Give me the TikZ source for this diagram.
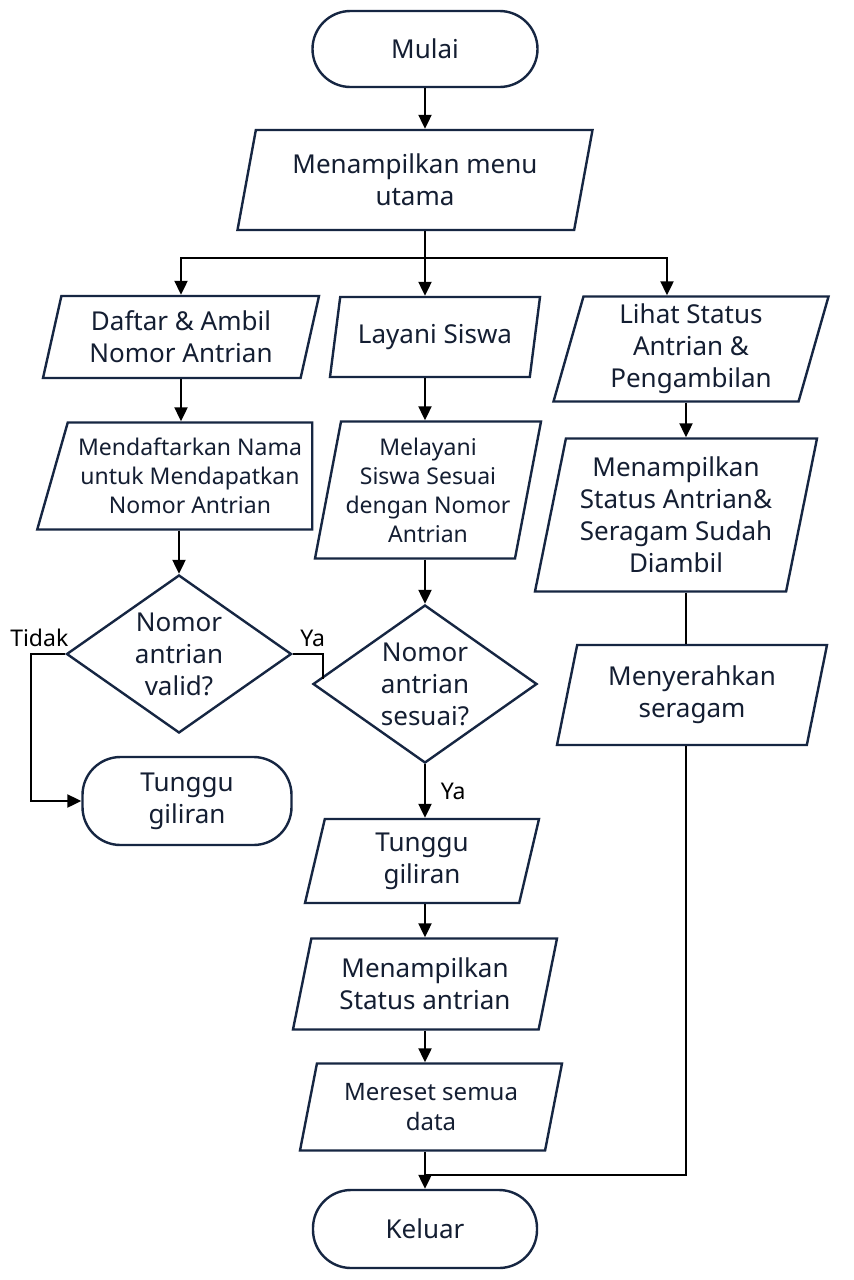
\documentclass[tikz,border=0pt]{standalone}
\usepackage{fontspec}
\setmainfont{Noto Sans}
\usetikzlibrary{shapes.geometric,arrows.meta}

\definecolor{navy}{RGB}{22,38,66}
\definecolor{ink}{RGB}{20,30,50}

\tikzset{
    base/.style={draw=navy, line width=1.2pt, text=ink, align=center, inner sep=2pt,
        font=\fontsize{13}{16}\selectfont},
    terminal/.style={base, rectangle, rounded corners=19pt},
    io/.style={base, trapezium, trapezium left angle=73, trapezium right angle=107,
        trapezium stretches body},
    decision/.style={base, diamond, aspect=1.6, inner sep=0pt},
    line/.style={line width=1.1pt, draw=black},
    arr/.style={line, -{Triangle[length=7pt,width=6.5pt]}},
    lbl/.style={text=black, font=\fontsize{11.5}{13}\selectfont},
}

\begin{document}
\begin{tikzpicture}[x=0.5pt, y=-0.5pt]
        \useasboundingbox[fill=white] (0,0) rectangle (853,1280);
        % ==== TOP ====
        \node[terminal, minimum width=112.5pt, minimum height=38pt] (mulai) at (425,49) {Mulai};
        \node[io, minimum width=177.5pt, minimum height=50pt] (menu) at (415,180) {Menampilkan menu\\utama};
        \coordinate (split) at (425,258);

        % ==== LEFT COLUMN ====
        \node[io, minimum width=138pt, minimum height=41pt] (daftar) at (181,337) {Daftar \& Ambil\\Nomor Antrian};
        \node[io, trapezium left angle=70, trapezium right angle=90, minimum width=137.5pt, minimum height=53.5pt,
            font=\fontsize{11.5}{14.5}\selectfont] (daftarkan) at (190,476)
            {Mendaftarkan Nama\\untuk Mendapatkan\\Nomor Antrian};
        \node[decision, minimum width=112.5pt, minimum height=79pt] (valid) at (179,654) {Nomor\\antrian\\valid?};
        \node[terminal, minimum width=104.5pt, minimum height=44pt] (tunggu1) at (187,801) {Tunggu\\giliran};

        % ==== MIDDLE COLUMN ====
        \node[io, minimum width=105pt, minimum height=40pt] (layani) at (435,337) {Layani Siswa};
        \node[io, trapezium left angle=77, trapezium right angle=103, minimum width=113pt, minimum height=68.5pt,
            font=\fontsize{11.5}{14.5}\selectfont] (melayani) at (428,490)
            {Melayani\\Siswa Sesuai\\dengan Nomor\\Antrian};
        \node[decision, minimum width=112pt, minimum height=79pt] (sesuai) at (425,684) {Nomor\\antrian\\sesuai?};
        \node[io, minimum width=117pt, minimum height=42pt] (tunggu2) at (422,861) {Tunggu\\giliran};
        \node[io, minimum width=132pt, minimum height=45.5pt] (tampil) at (425,984) {Menampilkan\\Status antrian};
        \node[io, minimum width=131pt, minimum height=43.5pt,
            font=\fontsize{12}{15}\selectfont] (mereset) at (431,1107) {Mereset semua\\data};
        \node[terminal, minimum width=112pt, minimum height=39pt] (keluar) at (425,1229) {Keluar};

        % ==== RIGHT COLUMN ====
        \node[io, minimum width=137.5pt, minimum height=52.5pt] (lihat) at (691,349) {Lihat Status\\Antrian \&\\Pengambilan};
        \node[io, trapezium left angle=76, trapezium right angle=104, minimum width=141pt, minimum height=76.5pt]
            (ambil) at (676,515) {Menampilkan\\Status Antrian\&\\Seragam Sudah\\Diambil};
        \node[io, minimum width=135pt, minimum height=50pt] (serah) at (692,695) {Menyerahkan\\seragam};
        \coordinate (kanan) at (686,1175);

        % ==== CONNECTORS ====
        \draw[arr] (mulai.south) -- (mulai.south |- menu.north);
        \draw[line] (menu.south -| split) -- (split);
        \draw[arr] (split) -| (daftar.north);
        \draw[arr] (split) -- (split |- layani.north);
        \draw[arr] (split) -| ([xshift=-12pt]lihat.north);

        \draw[arr] (daftar.south) -- (daftar.south |- daftarkan.north);
        \draw[arr] (daftarkan.south -| valid) -- (valid.north);
        \draw[arr] (valid.west) -- ++(-34,0) node[lbl, above, xshift=4pt] (tidak) {Tidak} |- (tunggu1.west);
        \draw[line] (valid.east) -- ++(30,0) node[lbl, above, xshift=-5pt] (ya1) {Ya} -- ++(0,25);

        \draw[arr] (layani.south -| split) -- (split |- melayani.north);
        \draw[arr] (melayani.south -| sesuai) -- (sesuai.north);
        \draw[arr] (sesuai.south) -- (sesuai.south |- tunggu2.north) node[lbl, midway, right, xshift=4pt] (ya2) {Ya};
        \draw[arr] (tunggu2.south -| sesuai) -- (sesuai |- tampil.north);
        \draw[arr] (tampil.south) -- (tampil.south |- mereset.north);
        \draw[arr] (mereset.south -| keluar) -- (keluar.north);

        \draw[arr] (lihat.south -| kanan) -- (kanan |- ambil.north);
        \draw[line] (ambil.south -| kanan) -- (kanan |- serah.north);
        \draw[line] (serah.south -| kanan) -- (kanan) -- (kanan -| keluar);
\end{tikzpicture}
\end{document}
